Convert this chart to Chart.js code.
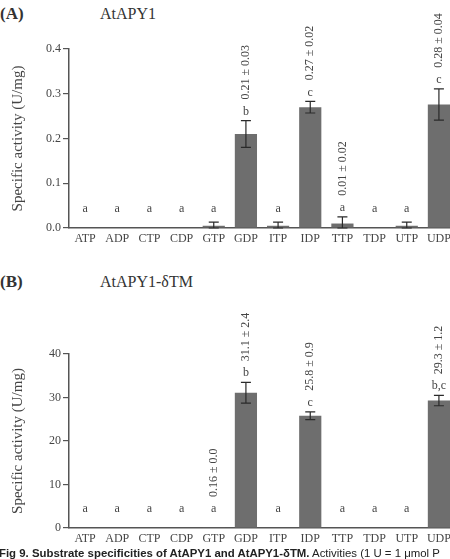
<!DOCTYPE html>
<html>
<head>
<meta charset="utf-8">
<script src="https://cdn.jsdelivr.net/npm/chart.js@4.4.0/dist/chart.umd.min.js"></script>
<style>
  html, body { margin: 0; padding: 0; background: #fff; width: 450px; height: 559px; overflow: hidden; position: relative; }
  canvas { position: absolute; left: 0; }
  .lbl { position: absolute; font-family: 'Liberation Serif', 'Times New Roman', serif; color: #333; white-space: nowrap; }
  .cap { position: absolute; left: -1px; top: 547px; font-family: 'Liberation Sans', Arial, sans-serif; font-size: 11.4px; color: #222; white-space: nowrap; }
</style>
</head>
<body>
<div class="lbl" style="left:0px; top:4px; font-size:17px; font-weight:bold;">(A)</div>
<div class="lbl" style="left:100px; top:5px; font-size:16px;">AtAPY1</div>
<div class="lbl" style="left:0px; top:272px; font-size:17px; font-weight:bold;">(B)</div>
<div class="lbl" style="left:100px; top:273px; font-size:16px;">AtAPY1-δTM</div>
<canvas id="cA" width="455" height="258" style="top:0px;width:455px;height:258px;"></canvas>
<canvas id="cB" width="455" height="253" style="top:305px;width:455px;height:253px;"></canvas>
<div class="cap"><b>Fig 9. Substrate specificities of AtAPY1 and AtAPY1-δTM.</b> Activities (1 U = 1 μmol P</div>
<script>
// ---- data ----
const categories = ['ATP','ADP','CTP','CDP','GTP','GDP','ITP','IDP','TTP','TDP','UTP','UDP'];

const aValues  = [0, 0, 0, 0, 0.005, 0.21, 0.005, 0.27, 0.01, 0, 0.005, 0.276];
const aErrors  = [0, 0, 0, 0, 0.008, 0.03, 0.008, 0.013, 0.015, 0, 0.008, 0.035];
const aLetters = ['a','a','a','a','a','b','a','c','a','a','a','c'];
const aNotes   = ['','','','','','0.21 ± 0.03','','0.27 ± 0.02','0.01 ± 0.02','','','0.28 ± 0.04'];
const aTicks   = ['0.0','0.1','0.2','0.3','0.4'];

const bValues  = [0, 0, 0, 0, 0.16, 31.1, 0, 25.8, 0, 0, 0, 29.3];
const bErrors  = [0, 0, 0, 0, 0, 2.4, 0, 0.9, 0, 0, 0, 1.2];
const bLetters = ['a','a','a','a','a','b','a','c','a','a','a','b,c'];
const bNotes   = ['','','','','0.16 ± 0.0','31.1 ± 2.4','','25.8 ± 0.9','','','','29.3 ± 1.2'];
const bTicks   = ['0','10','20','30','40'];

const SERIF = "'Liberation Serif', 'Times New Roman', serif";
const TXT = '#454545';
const AXIS = '#555';

function annotPlugin(values, errors, letters, notes) {
  return {
    id: 'annot',
    afterDatasetsDraw(chart) {
      const ctx = chart.ctx;
      const xs = chart.scales.x, ys = chart.scales.y;
      const base = ys.getPixelForValue(0);
      ctx.save();
      for (let i = 0; i < categories.length; i++) {
        const x = xs.getPixelForValue(i);
        const v = values[i], e = errors[i];
        let top = ys.getPixelForValue(v);
        if (e > 0) {
          const yt = ys.getPixelForValue(v + e);
          const yb = ys.getPixelForValue(Math.max(0, v - e));
          ctx.strokeStyle = '#2a2a2a';
          ctx.lineWidth = 1.2;
          ctx.beginPath();
          ctx.moveTo(x, yt); ctx.lineTo(x, yb);
          ctx.moveTo(x - 5, yt); ctx.lineTo(x + 5, yt);
          ctx.moveTo(x - 5, yb); ctx.lineTo(x + 5, yb);
          ctx.stroke();
          top = yt;
        }
        const ly = Math.min(top - 9, base - 19);
        ctx.fillStyle = TXT;
        ctx.font = '12px ' + SERIF;
        ctx.textAlign = 'center';
        ctx.textBaseline = 'middle';
        ctx.fillText(letters[i], x, ly);
        if (notes[i]) {
          ctx.save();
          ctx.translate(x, ly - 12);
          ctx.rotate(-Math.PI / 2);
          ctx.textAlign = 'left';
          ctx.textBaseline = 'middle';
          ctx.fillText(notes[i], 0, 0);
          ctx.restore();
        }
      }
      ctx.restore();
    }
  };
}

function makeChart(id, values, errors, letters, notes, tickLabels, maxV, step) {
  return new Chart(document.getElementById(id), {
    type: 'bar',
    data: {
      labels: categories,
      datasets: [{
        data: values,
        backgroundColor: '#6e6e6e',
        borderWidth: 0,
        barPercentage: 0.69,
        categoryPercentage: 1.0
      }]
    },
    options: {
      responsive: false,
      animation: false,
      layout: { padding: { top: 49, right: 0, bottom: 0, left: 0 } },
      plugins: { legend: { display: false }, tooltip: { enabled: false } },
      scales: {
        x: {
          offset: true,
          grid: { display: false, drawTicks: false },
          border: { display: true, color: AXIS, width: 1.5 },
          ticks: { color: TXT, font: { family: SERIF, size: 12 }, padding: 4, maxRotation: 0, autoSkip: false },
          afterFit(s) { s.height = 30; }
        },
        y: {
          min: 0, max: maxV,
          grid: { display: true, drawOnChartArea: false, drawTicks: true, tickLength: 6, color: AXIS, lineWidth: 1.2 },
          border: { display: true, color: AXIS, width: 1.5 },
          ticks: {
            stepSize: step, color: TXT, padding: 2,
            font: { family: SERIF, size: 12 },
            callback: (val, idx) => tickLabels[idx]
          },
          title: {
            display: true, text: 'Specific activity (U/mg)', color: TXT,
            font: { family: SERIF, size: 15 }, padding: { top: 9, bottom: 0 }
          },
          afterFit(s) { s.width = 69; }
        }
      }
    },
    plugins: [annotPlugin(values, errors, letters, notes)]
  });
}

makeChart('cA', aValues, aErrors, aLetters, aNotes, aTicks, 0.4, 0.1);
makeChart('cB', bValues, bErrors, bLetters, bNotes, bTicks, 40, 10);
</script>
</body>
</html>
